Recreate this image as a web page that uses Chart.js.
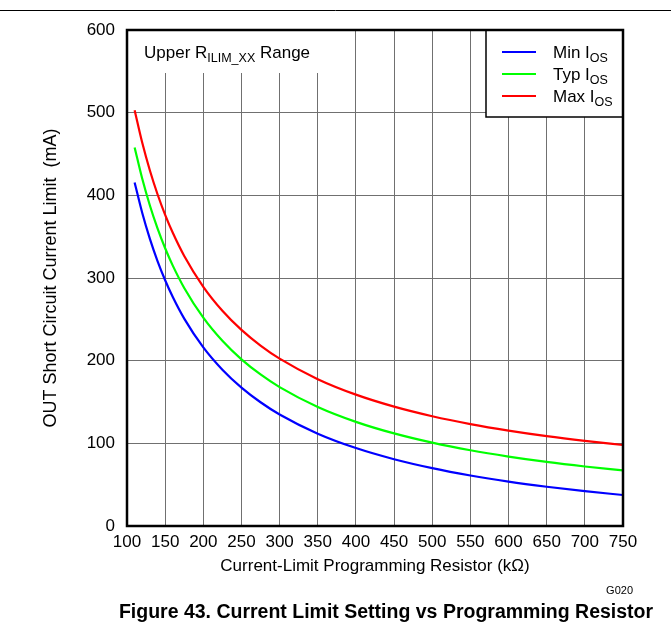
<!DOCTYPE html>
<html><head><meta charset="utf-8">
<script src="https://cdn.jsdelivr.net/npm/chart.js@4.4.0/dist/chart.umd.min.js"></script>
<style>html,body{margin:0;padding:0;background:#fff;}#wrap{width:671px;height:635px;}</style>
</head><body><div id="wrap"><canvas id="c" width="671" height="635"></canvas></div>
<script>
// Data (kΩ, mA)
const resistance = [110,120,130,140,150,160,175,200,225,250,275,300,350,400,450,500,550,600,650,700,750];
const minIos = [415.5,378.6,347.3,320.5,297.3,277,250.9,216.1,189.1,167.4,149.7,134.9,111.7,94.3,80.8,70,61.1,53.7,47.5,42.1,37.5];
const typIos = [458,420,387.7,360,336,315,288,252,224,201.6,183.3,168,144,126,112,100.8,91.6,84,77.5,72,67.2];
const maxIos = [503,463.5,430,401.3,376.4,354.7,326.7,289.4,260.4,237.2,218.2,202.4,177.6,158.9,144.4,132.8,123.3,115.4,108.7,103,98];
const seriesNames = [["Min I","OS"],["Typ I","OS"],["Max I","OS"]];
const seriesColors = ["#0000FF","#00FF00","#FF0000"];
const xMin = 100, xMax = 750, xStep = 50;
const yMin = 0, yMax = 600, yStep = 100;
const xTitle = "Current-Limit Programming Resistor (k\u03A9)";
const yTitle = "OUT Short Circuit Current Limit  (mA)";
const boxText = [["Upper R",false],["ILIM_XX",true],[" Range",false]];
const captionText = "Figure 43. Current Limit Setting vs Programming Resistor";
const codeText = "G020";

const FONT = "'Liberation Sans', Arial, Helvetica, sans-serif";

function toPts(vals){ return resistance.map((r,i)=>({x:r,y:vals[i]})); }

function drawRich(ctx, x, y, parts, size, subSize){
  ctx.textBaseline = 'alphabetic';
  ctx.textAlign = 'left';
  let cx = x;
  for (const [t, sub] of parts){
    if (sub){ ctx.font = subSize + "px " + FONT; ctx.fillText(t, cx, y + 4); }
    else { ctx.font = size + "px " + FONT; ctx.fillText(t, cx, y); }
    cx += ctx.measureText(t).width;
  }
}

const decor = {
  id: 'decor',
  beforeDatasetsDraw(chart){
    const ctx = chart.ctx, ca = chart.chartArea;
    ctx.save();
    ctx.fillStyle = '#fff';
    ctx.fillRect(ca.left, ca.top, 213, 43);
    ctx.restore();
  },
  afterDatasetsDraw(chart){
    const ctx = chart.ctx, ca = chart.chartArea;
    ctx.save();
    // legend box
    const lx = 486, ly = ca.top, lw = ca.right - 486, lh = 87;
    ctx.fillStyle = '#fff';
    ctx.fillRect(lx, ly, lw, lh);
    ctx.strokeStyle = '#000';
    ctx.lineWidth = 1.5;
    ctx.strokeRect(lx, ly, lw, lh);
    chart.data.datasets.forEach((ds, i) => {
      const yy = 52 + i * 22;
      ctx.strokeStyle = ds.borderColor;
      ctx.lineWidth = 2;
      ctx.beginPath(); ctx.moveTo(502, yy); ctx.lineTo(536, yy); ctx.stroke();
      ctx.fillStyle = '#000';
      drawRich(ctx, 553, yy + 6, [[seriesNames[i][0], false],[seriesNames[i][1], true]], 17, 12.5);
    });
    // plot border
    ctx.strokeStyle = '#000';
    ctx.lineWidth = 2.5;
    ctx.strokeRect(ca.left, ca.top, ca.right - ca.left, ca.bottom - ca.top);
    // box label
    ctx.fillStyle = '#000';
    drawRich(ctx, 144, 58, boxText, 17, 12.5);
    ctx.restore();
  },
  afterDraw(chart){
    const ctx = chart.ctx;
    ctx.save();
    ctx.strokeStyle = '#000';
    ctx.lineWidth = 1;
    ctx.beginPath(); ctx.moveTo(0, 10.5); ctx.lineTo(671, 10.5); ctx.stroke();
    ctx.fillStyle = '#000';
    ctx.textBaseline = 'alphabetic';
    ctx.textAlign = 'right';
    ctx.font = "11px " + FONT;
    ctx.fillText(codeText, 633, 594);
    ctx.textAlign = 'center';
    ctx.font = "bold 19.5px " + FONT;
    ctx.fillText(captionText, 386, 618);
    ctx.restore();
  }
};

new Chart(document.getElementById('c'), {
  type: 'line',
  data: {
    datasets: [
      {label: 'Min IOS', data: toPts(minIos), borderColor: seriesColors[0]},
      {label: 'Typ IOS', data: toPts(typIos), borderColor: seriesColors[1]},
      {label: 'Max IOS', data: toPts(maxIos), borderColor: seriesColors[2]}
    ].map(d => Object.assign(d, {borderWidth: 2.2, pointRadius: 0, fill: false, cubicInterpolationMode: 'monotone'}))
  },
  options: {
    responsive: false,
    animation: false,
    devicePixelRatio: 1,
    layout: {padding: {left: 36, right: 48, top: 30, bottom: 54}},
    plugins: {legend: {display: false}, tooltip: {enabled: false}, title: {display: false}},
    scales: {
      x: {
        type: 'linear', min: xMin, max: xMax,
        afterFit(s){ s.height = 55; },
        border: {display: false},
        grid: {color: '#707070', lineWidth: 1, drawTicks: false},
        ticks: {stepSize: xStep, color: '#000', padding: 6, maxRotation: 0, autoSkip: false, font: {family: FONT, size: 17}},
        title: {display: true, text: xTitle, color: '#000', padding: {top: 4, bottom: 4}, font: {family: FONT, size: 17, lineHeight: 1.2}}
      },
      y: {
        type: 'linear', min: yMin, max: yMax,
        afterFit(s){ s.width = 91; },
        border: {display: false},
        grid: {color: '#707070', lineWidth: 1, drawTicks: false},
        ticks: {stepSize: yStep, color: '#000', padding: 12, font: {family: FONT, size: 17}},
        title: {display: true, text: yTitle, color: '#000', padding: {top: 4, bottom: 4}, font: {family: FONT, size: 18, lineHeight: 1.2}}
      }
    }
  },
  plugins: [decor]
});
</script>
</body></html>
